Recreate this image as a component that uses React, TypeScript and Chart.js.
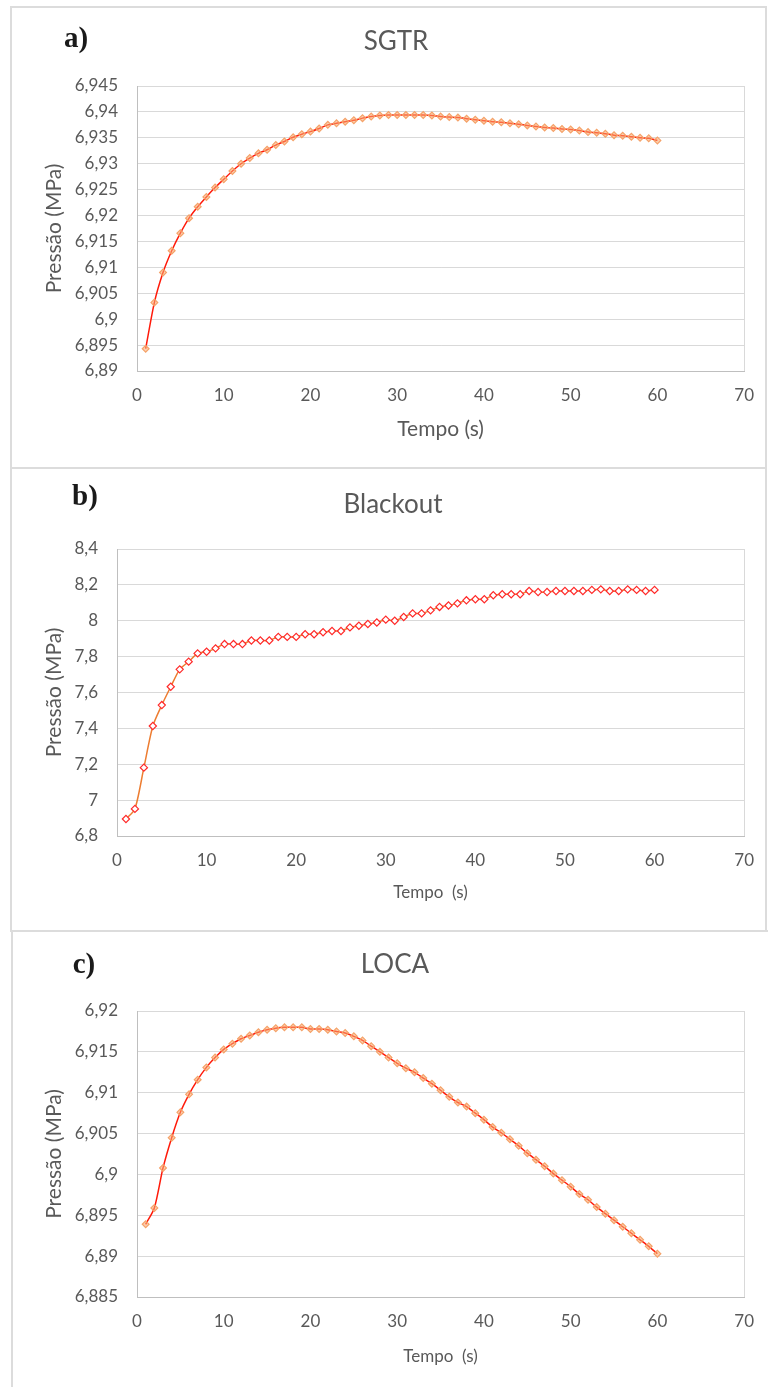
import React, { useEffect, useRef } from 'react';
import { Chart, registerables } from 'chart.js';

Chart.register(...registerables);

// ---------- DATA ----------
const tempo = [
  1, 2, 3, 4, 5, 6, 7, 8, 9, 10, 11, 12, 13, 14, 15, 16, 17, 18, 19, 20,
  21, 22, 23, 24, 25, 26, 27, 28, 29, 30, 31, 32, 33, 34, 35, 36, 37, 38, 39, 40,
  41, 42, 43, 44, 45, 46, 47, 48, 49, 50, 51, 52, 53, 54, 55, 56, 57, 58, 59, 60,
];

const sgtrPressao = [
  6.8943, 6.9032, 6.909, 6.9132, 6.9166, 6.9195, 6.9217, 6.9236, 6.9254, 6.927,
  6.9286, 6.93, 6.9311, 6.932, 6.9327, 6.9336, 6.9343, 6.9351, 6.9357, 6.9362,
  6.9368, 6.9375, 6.9378, 6.9381, 6.9384, 6.9388, 6.9391, 6.9393, 6.9394, 6.9394,
  6.9394, 6.9394, 6.9394, 6.9393, 6.9391, 6.939, 6.9389, 6.9387, 6.9385, 6.9383,
  6.9381, 6.938, 6.9378, 6.9376, 6.9374, 6.9372, 6.937, 6.9369, 6.9367, 6.9366,
  6.9364, 6.9361, 6.936, 6.9358, 6.9355, 6.9354, 6.9352, 6.935, 6.9349, 6.9345,
];

const blackoutPressao = [
  6.895, 6.951, 7.181, 7.413, 7.53, 7.632, 7.729, 7.772, 7.818, 7.827,
  7.846, 7.87, 7.87, 7.87, 7.89, 7.89, 7.89, 7.91, 7.91, 7.91,
  7.925, 7.925, 7.936, 7.943, 7.943, 7.963, 7.972, 7.982, 7.99, 8.006,
  8.0, 8.021, 8.041, 8.041, 8.058, 8.077, 8.085, 8.097, 8.114, 8.12,
  8.12, 8.142, 8.148, 8.148, 8.148, 8.166, 8.16, 8.16, 8.166, 8.166,
  8.166, 8.166, 8.172, 8.175, 8.166, 8.166, 8.175, 8.172, 8.166, 8.172,
];

const locaPressao = [
  6.8939, 6.8959, 6.9008, 6.9045, 6.9076, 6.9098, 6.9116, 6.9131, 6.9143, 6.9153,
  6.916, 6.9166, 6.917, 6.9174, 6.9177, 6.9179, 6.918, 6.918, 6.918, 6.9178,
  6.9178, 6.9177, 6.9175, 6.9173, 6.9169, 6.9164, 6.9157, 6.915, 6.9143, 6.9136,
  6.913, 6.9125, 6.9118, 6.9111, 6.9103, 6.9095, 6.9088, 6.9083, 6.9075, 6.9067,
  6.9058, 6.9051, 6.9043, 6.9035, 6.9026, 6.9018, 6.901, 6.9001, 6.8993, 6.8985,
  6.8976, 6.8969, 6.896, 6.8952, 6.8944, 6.8936, 6.8928, 6.892, 6.8912, 6.8903,
];

const xAxis = { min: 0, max: 70, step: 10 };
const yAxisSgtr = { min: 6.89, max: 6.945, step: 0.005 };
const yAxisBlackout = { min: 6.8, max: 8.4, step: 0.2 };
const yAxisLoca = { min: 6.885, max: 6.92, step: 0.005 };

const titles = ['SGTR', 'Blackout', 'LOCA'];
const letters = ['a)', 'b)', 'c)'];
const yLabel = 'Pressão (MPa)';
const xLabels = ['Tempo (s)', 'Tempo  (s)', 'Tempo  (s)'];

// ---------- STYLE ----------
const GRAY_TEXT = '#595959';
const GRID = '#d9d9d9';
const FONT = 'Lato, "Open Sans", sans-serif';

const fmt = (v: number) => String(Number(Number(v).toFixed(4))).replace('.', ',');

const panelPlugin = {
  id: 'panelText',
  beforeDatasetsDraw(chart: any) {
    const { ctx, chartArea } = chart;
    const { right, top, bottom } = chartArea;
    ctx.save();
    ctx.strokeStyle = GRID;
    ctx.lineWidth = 1;
    ctx.beginPath();
    ctx.moveTo(Math.round(right) + 0.5, top);
    ctx.lineTo(Math.round(right) + 0.5, bottom);
    ctx.stroke();
    ctx.restore();
  },
  afterDraw(chart: any, _args: any, opts: any) {
    const ctx = chart.ctx;
    ctx.save();
    ctx.textAlign = 'center';
    ctx.textBaseline = 'middle';
    ctx.fillStyle = GRAY_TEXT;
    ctx.font = `${opts.titleSize}px ${FONT}`;
    ctx.fillText(opts.title, opts.titleX, opts.titleY);
    ctx.fillStyle = '#1a1a1a';
    ctx.font = `bold ${opts.letterSize}px "Liberation Serif", serif`;
    ctx.fillText(opts.letter, opts.letterX, opts.letterY);
    ctx.restore();
  },
};

type PanelSpec = {
  top: number;
  height: number;
  values: number[];
  y: { min: number; max: number; step: number };
  yAxisWidth: number;
  xAxisHeight: number;
  padTop: number;
  padRight: number;
  yTitlePad: number;
  xTitlePad: number;
  xTitleSize: number;
  title: string;
  titleX: number;
  titleY: number;
  letter: string;
  letterX: number;
  letterY: number;
  xLabel: string;
  lineColor: string;
  pointFill: string;
  pointBorder: string;
  pointRadius: number;
};

function Panel({ spec }: { spec: PanelSpec }) {
  const ref = useRef<HTMLCanvasElement | null>(null);
  useEffect(() => {
    if (!ref.current) return;
    const points = tempo.map((t, i) => ({ x: t, y: spec.values[i] }));
    const chart = new Chart(ref.current, {
      type: 'line',
      data: {
        datasets: [
          {
            data: points,
            borderColor: spec.lineColor,
            borderWidth: 1.5,
            tension: 0.25,
            pointStyle: 'rectRot',
            pointRadius: spec.pointRadius,
            pointBackgroundColor: spec.pointFill,
            pointBorderColor: spec.pointBorder,
            pointBorderWidth: 1.2,
            fill: false,
          },
        ],
      },
      options: {
        responsive: false,
        animation: false,
        layout: { padding: { top: spec.padTop, right: spec.padRight, left: 0, bottom: 0 } },
        plugins: {
          legend: { display: false },
          tooltip: { enabled: false },
          panelText: {
            title: spec.title,
            titleX: spec.titleX,
            titleY: spec.titleY,
            titleSize: 26,
            letter: spec.letter,
            letterX: spec.letterX,
            letterY: spec.letterY,
            letterSize: 29,
          },
        } as any,
        scales: {
          x: {
            type: 'linear',
            min: xAxis.min,
            max: xAxis.max,
            grid: { display: false, drawTicks: false },
            border: { display: true, color: '#bfbfbf', width: 1 },
            ticks: {
              stepSize: xAxis.step,
              padding: 14,
              color: GRAY_TEXT,
              font: { family: FONT, size: 17 },
            },
            title: {
              display: true,
              text: spec.xLabel,
              color: GRAY_TEXT,
              font: { family: FONT, size: spec.xTitleSize },
              padding: { top: 0, bottom: spec.xTitlePad },
            },
            afterFit: (s: any) => {
              s.height = spec.xAxisHeight;
            },
          },
          y: {
            type: 'linear',
            min: spec.y.min,
            max: spec.y.max,
            grid: { color: GRID, lineWidth: 1, drawTicks: false },
            border: { display: true, color: '#bfbfbf', width: 1 },
            ticks: {
              stepSize: spec.y.step,
              padding: 19,
              color: GRAY_TEXT,
              font: { family: FONT, size: 17 },
              callback: (v: any) => fmt(v),
            },
            title: {
              display: true,
              text: yLabel,
              color: GRAY_TEXT,
              font: { family: FONT, size: 21 },
              padding: { top: spec.yTitlePad, bottom: 0 },
            },
            afterFit: (s: any) => {
              s.width = spec.yAxisWidth;
            },
          },
        },
      } as any,
      plugins: [panelPlugin as any],
    });
    return () => chart.destroy();
  }, [spec]);
  return (
    <canvas
      ref={ref}
      width={768}
      height={spec.height}
      style={{ position: 'absolute', left: 0, top: spec.top, width: 768, height: spec.height }}
    />
  );
}

const specs: PanelSpec[] = [
  {
    top: 8, height: 460, values: sgtrPressao, y: yAxisSgtr,
    yAxisWidth: 137, xAxisHeight: 97, padTop: 78, padRight: 22,
    yTitlePad: 42, xTitlePad: 26, xTitleSize: 21,
    title: titles[0], titleX: 396, titleY: 34,
    letter: letters[0], letterX: 76, letterY: 32, xLabel: xLabels[0],
    lineColor: '#ff1a0a', pointFill: 'rgba(250,170,110,0.55)', pointBorder: '#f5a36a', pointRadius: 3.4,
  },
  {
    top: 470, height: 460, values: blackoutPressao, y: yAxisBlackout,
    yAxisWidth: 117, xAxisHeight: 94, padTop: 79, padRight: 22,
    yTitlePad: 42, xTitlePad: 27, xTitleSize: 17,
    title: titles[1], titleX: 393, titleY: 35,
    letter: letters[1], letterX: 85, letterY: 28, xLabel: xLabels[1],
    lineColor: '#ed7d31', pointFill: '#ffffff', pointBorder: '#ff2a2a', pointRadius: 3.6,
  },
  {
    top: 934, height: 453, values: locaPressao, y: yAxisLoca,
    yAxisWidth: 137, xAxisHeight: 90, padTop: 77, padRight: 21,
    yTitlePad: 42, xTitlePad: 20, xTitleSize: 17,
    title: titles[2], titleX: 395, titleY: 31,
    letter: letters[2], letterX: 84, letterY: 32, xLabel: xLabels[2],
    lineColor: '#ff1a0a', pointFill: 'rgba(250,170,110,0.55)', pointBorder: '#f5a36a', pointRadius: 3.4,
  },
];

export default function App() {
  const frame = (left: number, top: number, width: number, height: number) => (
    <div
      style={{
        position: 'absolute', left, top, width, height,
        boxSizing: 'border-box', border: '2px solid #dcdcdc', background: '#fff',
      }}
    />
  );
  return (
    <div style={{ position: 'absolute', left: 0, top: 0, width: 768, height: 1387, background: '#fff', overflow: 'hidden' }}>
      {frame(10, 6, 757, 463)}
      {frame(10, 467, 757, 465)}
      {frame(11, 930, 770, 470)}
      {specs.map((s, i) => (
        <Panel key={i} spec={s} />
      ))}
    </div>
  );
}
